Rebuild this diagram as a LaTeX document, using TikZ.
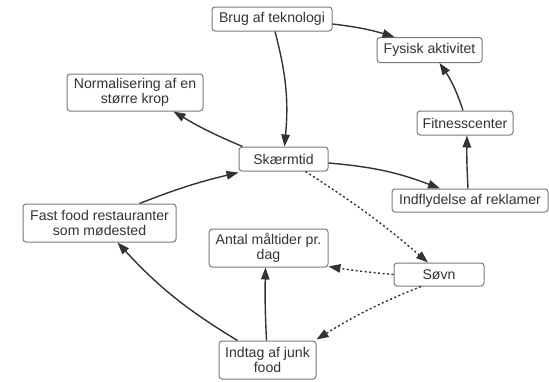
\documentclass[tikz,border=0pt]{standalone}
\usepackage{fontspec}
\setmainfont{Liberation Sans}
\usetikzlibrary{arrows.meta}
\definecolor{txt}{HTML}{333333}
\definecolor{edge}{HTML}{7A7A7A}
\definecolor{arr}{HTML}{333333}
\tikzset{
  box/.style={draw=edge, line width=1pt, rounded corners=3pt, fill=white,
    text=txt, inner sep=0pt, align=center,
    font=\fontsize{14.1}{14.8}\selectfont},
  link/.style={draw=arr, line width=1.4pt, -{Triangle[length=12pt,width=8.5pt]}},
  dotlink/.style={link, dash pattern=on 2pt off 2.5pt},
}
\begin{document}
\begin{tikzpicture}[x=1pt,y=-1pt]
\useasboundingbox (0,0) rectangle (549,381);
\node[box, minimum width=120pt, minimum height=24pt] (brug) at (272,19) {Brug af teknologi};
\node[box, minimum width=105pt, minimum height=25pt] (fys) at (429.5,50) {Fysisk aktivitet};
\node[box, minimum width=136pt, minimum height=37pt] (norm) at (135,92.5) {Normalisering af en\\større krop};
\node[box, minimum width=96pt, minimum height=24pt] (fit) at (465,123) {Fitnesscenter};
\node[box, minimum width=89pt, minimum height=24pt] (skaerm) at (283.5,159) {Skærmtid};
\node[box, minimum width=156pt, minimum height=23pt] (reklame) at (470,200.5) {Indflydelse af reklamer};
\node[box, minimum width=153pt, minimum height=38pt] (fast) at (99.5,223) {Fast food restauranter\\som mødested};
\node[box, minimum width=119pt, minimum height=38pt] (antal) at (268.5,248) {Antal måltider pr.\\dag};
\node[box, minimum width=90pt, minimum height=23pt] (sovn) at (439,274.5) {Søvn};
\node[box, minimum width=97pt, minimum height=38pt] (junk) at (267.5,360) {Indtag af junk\\food};

\draw[link] ([yshift=-5pt]brug.east) to[bend left=5] ([xshift=-35pt]fys.north);
\draw[link] ([xshift=3pt]brug.south) to[bend left=10] ([xshift=1pt]skaerm.north);
\draw[link] ([xshift=-2pt]fit.north) to[bend right=8] ([xshift=10pt]fys.south);
\draw[link] ([xshift=-2pt]reklame.north) to[bend left=2] ([xshift=2pt]fit.south);
\draw[link] ([yshift=-4pt]skaerm.east) to[bend left=8] ([xshift=-30pt]reklame.north);
\draw[link] ([xshift=4pt]skaerm.north west) to[bend left=4] ([xshift=-30pt]norm.south east);
\draw[link] ([xshift=40pt]fast.north) to[bend left=4] ([yshift=-1pt]skaerm.south west);
\draw[link] ([xshift=-30pt]junk.north) to[bend left=8] ([xshift=18pt]fast.south);
\draw[link] ([xshift=-1pt]junk.north) to[bend left=2] ([xshift=-3pt]antal.south);
\draw[dotlink] ([xshift=22pt]skaerm.south) to[bend left=4] ([xshift=-11pt]sovn.north);
\draw[dotlink] (sovn.west) to[bend left=2] ([yshift=1pt]antal.south east);
\draw[dotlink] ([xshift=-18pt]sovn.south) to[bend right=5] ([yshift=1pt]junk.north east);
\end{tikzpicture}
\end{document}
